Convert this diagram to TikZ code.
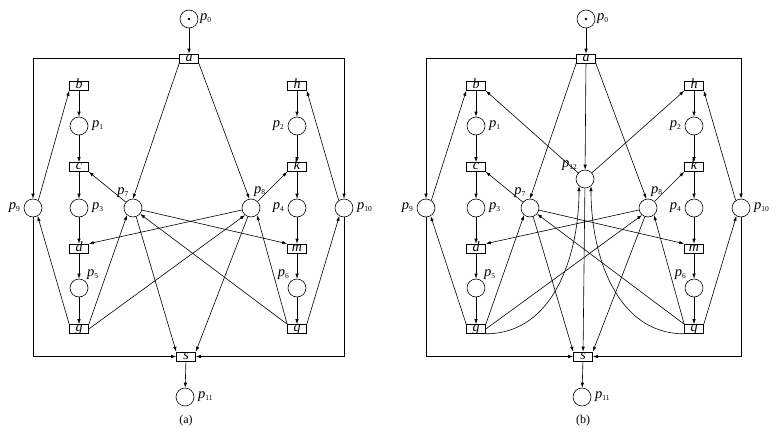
\documentclass[tikz,border=0pt]{standalone}
\usepackage{fontspec}
\setmainfont{Liberation Serif}
\usetikzlibrary{arrows.meta}

\newcommand{\pl}[1]{\textit{p}\raisebox{-1.5pt}{\fontsize{7.5}{7.5}\selectfont#1}}

\tikzset{
	place/.style={circle,draw,minimum size=18pt,inner sep=0pt},
	trans/.style={rectangle,draw,minimum width=19pt,inner xsep=0pt,inner ysep=0.5pt,
		text height=6.5pt,text depth=1.5pt,font=\fontsize{14}{14}\selectfont\itshape},
	lbl/.style={font=\fontsize{14.5}{14.5}\selectfont,inner sep=0.5pt,label distance=1pt}
}

\begin{document}
\begin{tikzpicture}[x=1pt,y=-1pt,line width=0.6pt,>={Latex[length=5pt,width=3.4pt]}]
	\useasboundingbox (0,0) rectangle (778,431);
	\foreach \pan/\dx/\nine/\sub in {A/0/33/a,B/397/29/b}{
	\begin{scope}[xshift=\dx,name prefix=\pan-]
		% places
		\node[place,label={[lbl]right:\pl{0}}] (p0) at (189,19) {};
		\fill (p0) circle (1.4pt);
		\node[place,label={[lbl,label distance=3pt]right:\pl{1}}] (p1) at (79,126) {};
		\node[place,label={[lbl,label distance=3pt]left:\pl{2}}] (p2) at (297,126) {};
		\node[place,label={[lbl,label distance=3pt]right:\pl{3}}] (p3) at (79,208) {};
		\node[place,label={[lbl,label distance=3pt]left:\pl{4}}] (p4) at (297,208) {};
		\node[place,label={[lbl]45:\pl{5}}] (p5) at (79,288) {};
		\node[place,label={[lbl]135:\pl{6}}] (p6) at (297,288) {};
		\node[place,label={[lbl]112:\pl{7}}] (p7) at (133,208) {};
		\node[place,label={[lbl,label distance=2pt]78:\pl{8}}] (p8) at (251,208) {};
		\node[place,label={[lbl,label distance=3pt]left:\pl{9}}] (p9) at (\nine,208) {};
		\node[place,label={[lbl,label distance=3pt]right:\pl{10}}] (p10) at (344,208) {};
		\node[place,label={[lbl,label distance=3pt]right:\pl{11}}] (p11) at (185,397) {};
		% transitions
		\node[trans] (a) at (189,58.5) {a};
		\node[trans] (b) at (79,86) {b};
		\node[trans] (c) at (79,167) {c};
		\node[trans] (d) at (79,248.5) {d};
		\node[trans] (g) at (79,329) {g};
		\node[trans] (h) at (297,86) {h};
		\node[trans] (k) at (297,167) {k};
		\node[trans] (m) at (297,248.5) {m};
		\node[trans] (q) at (297,329) {q};
		\node[trans] (s) at (186,356.5) {s};
		\node[font=\fontsize{12}{12}\selectfont] (cap) at (186,421) {(\sub)};
		% arcs
		\draw[->] (p0) -- (a);
		\draw[->] (a.west) -| (p9);
		\draw[->] (a.east) -| (p10);
		\draw[->] (a.south west) -- (p7.north);
		\draw[->] (a.south east) -- (p8.100);
		\foreach \u/\v in {b/p1,p1/c,c/p3,p3/d,d/p5,p5/g,h/p2,p2/k,k/p4,p4/m,m/p6,p6/q}
			\draw[->] (\u) -- (\v);
		\draw[->] (p9.55) -- (b.south west);
		\draw[->] (p10.125) -- (h.south east);
		\draw[->] (g.north west) -- (p9.-60);
		\draw[->] (q.north east) -- (p10.-120);
		\draw[->] (g.north east) -- (p7.-130);
		\draw[->] (g.east) -- (p8.-130);
		\draw[->] (q.north west) -- (p7.-40);
		\draw[->] (q.north west) -- (p8.-50);
		\draw[->] (p7) -- (c.south east);
		\draw[->] (p8) -- (k.south west);
		\draw[->] (p7) -- (m.north west);
		\draw[->] (p8) -- (d.north east);
		\draw[->] (p7.-70) -- (s.north west);
		\draw[->] (p8.-110) -- (s.north east);
		\draw[->] (p9) |- (s.west);
		\draw[->] (p10) |- (s.east);
		\draw[->] (s) -- (p11);
	\end{scope}}
	% extra place of net (b)
	\begin{scope}[xshift=397,name prefix=B-]
		\node[place,label={[lbl]135:\pl{12}}] (p12) at (188,179) {};
		\draw[->] (a) -- (p12);
		\draw[->] (p12) -- (s);
		\draw[->] (p12) -- (b.south east);
		\draw[->] (p12) -- (h.south west);
		\draw[->] (g.south east) to[out=0,in=-90] (p12.-130);
		\draw[->] (q.south west) to[out=180,in=-90] (p12.-50);
	\end{scope}
\end{tikzpicture}
\end{document}
